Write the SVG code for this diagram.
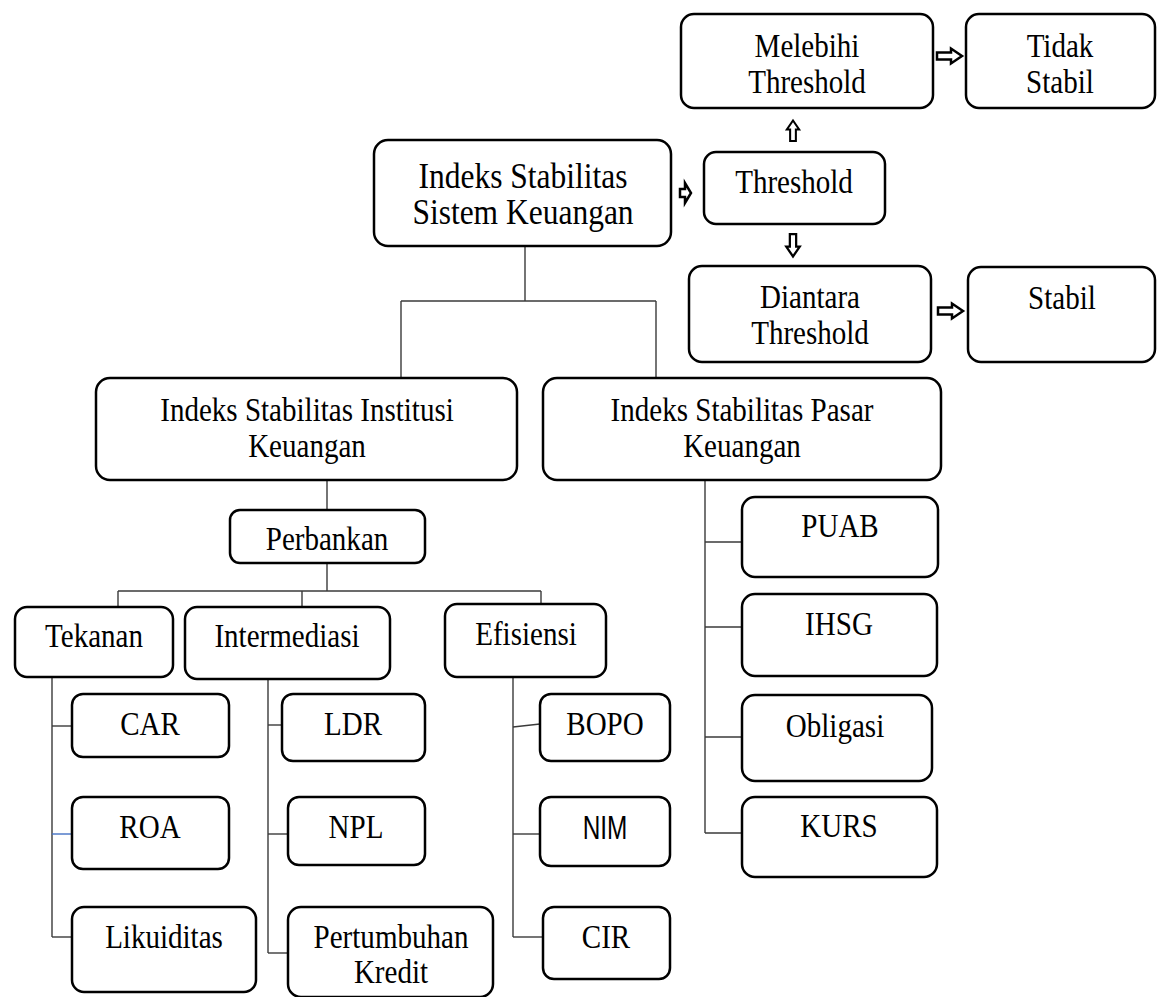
<svg xmlns="http://www.w3.org/2000/svg" width="1158" height="997" viewBox="0 0 1158 997">
<style>
.b{fill:#fff;stroke:#000;stroke-width:2.5}
.t{font-family:"Liberation Serif","Times New Roman",serif;font-size:33px;fill:#000;text-anchor:middle}
.big{font-size:35px}
.sans{font-family:"Liberation Sans",Arial,sans-serif;font-size:33px}
.c{fill:none;stroke:#3a3a3a;stroke-width:1.4}
.ar{fill:#fff;stroke:#000;stroke-width:2.5}
</style>
<defs>
<path id="rarrow" d="M0,-3.5 H14 V-7.5 L25,0 L14,7.5 V3.5 H0 Z"/>
</defs>
<rect width="1158" height="997" fill="#fff"/>
<g id="connectors">
<line class="c" x1="525" y1="246" x2="525" y2="301"/>
<line class="c" x1="401" y1="301" x2="656" y2="301"/>
<line class="c" x1="401" y1="301" x2="401" y2="378"/>
<line class="c" x1="656" y1="301" x2="656" y2="378"/>
<line class="c" x1="327" y1="480" x2="327" y2="510"/>
<line class="c" x1="327" y1="563" x2="327" y2="591"/>
<line class="c" x1="118" y1="591" x2="541" y2="591"/>
<line class="c" x1="118" y1="591" x2="118" y2="607"/>
<line class="c" x1="302" y1="591" x2="302" y2="607"/>
<line class="c" x1="541" y1="591" x2="541" y2="604"/>
<line class="c" x1="52" y1="677" x2="52" y2="937"/>
<line class="c" x1="52" y1="726" x2="72" y2="726"/>
<line x1="52" y1="834" x2="72" y2="834" stroke="#4472C4" stroke-width="1.4"/>
<line class="c" x1="52" y1="937" x2="72" y2="937"/>
<line class="c" x1="268" y1="679" x2="268" y2="953"/>
<line class="c" x1="268" y1="725" x2="282" y2="725"/>
<line class="c" x1="268" y1="834" x2="288" y2="834"/>
<line class="c" x1="268" y1="953" x2="288" y2="953"/>
<line class="c" x1="513" y1="677" x2="513" y2="937"/>
<line class="c" x1="513" y1="727" x2="540" y2="724"/>
<line class="c" x1="513" y1="834" x2="540" y2="834"/>
<line class="c" x1="513" y1="937" x2="543" y2="937"/>
<line class="c" x1="705" y1="480" x2="705" y2="833"/>
<line class="c" x1="705" y1="542" x2="742" y2="542"/>
<line class="c" x1="705" y1="627" x2="742" y2="627"/>
<line class="c" x1="705" y1="737" x2="742" y2="737"/>
<line class="c" x1="705" y1="833" x2="742" y2="833"/>
<use href="#rarrow" class="ar" transform="translate(937,56)"/>
<use href="#rarrow" class="ar" transform="translate(938,311)"/>
<use href="#rarrow" class="ar" transform="translate(793,141) rotate(-90) scale(0.82)"/>
<use href="#rarrow" class="ar" transform="translate(793,234) rotate(90) scale(0.9)"/>
<path class="ar" d="M680,189 H685 V183 L691,193 L685,203 V197 H680 Z"/>
</g>
<g id="melebihi"><rect class="b" x="681" y="14" width="252" height="94" rx="13"/><text class="t" transform="matrix(0.88 0 0 1 807 57)">Melebihi</text><text class="t" transform="matrix(0.88 0 0 1 807 93)">Threshold</text></g>
<g id="tidak-stabil"><rect class="b" x="966" y="14" width="189" height="94" rx="13"/><text class="t" transform="matrix(0.88 0 0 1 1060 57)">Tidak</text><text class="t" transform="matrix(0.88 0 0 1 1060 93)">Stabil</text></g>
<g id="issk"><rect class="b" x="374" y="140" width="297" height="106" rx="14"/><text class="t big" transform="matrix(0.9 0 0 1 523 188)">Indeks Stabilitas</text><text class="t big" transform="matrix(0.9 0 0 1 523 224)">Sistem Keuangan</text></g>
<g id="threshold"><rect class="b" x="704" y="152" width="181" height="72" rx="12"/><text class="t" transform="matrix(0.88 0 0 1 794 193)">Threshold</text></g>
<g id="diantara"><rect class="b" x="689" y="266" width="242" height="96" rx="13"/><text class="t" transform="matrix(0.88 0 0 1 810 308)">Diantara</text><text class="t" transform="matrix(0.88 0 0 1 810 344)">Threshold</text></g>
<g id="stabil"><rect class="b" x="968" y="267" width="187" height="95" rx="13"/><text class="t" transform="matrix(0.88 0 0 1 1062 309)">Stabil</text></g>
<g id="isik"><rect class="b" x="96" y="378" width="421" height="102" rx="14"/><text class="t" transform="matrix(0.88 0 0 1 307 421)">Indeks Stabilitas Institusi</text><text class="t" transform="matrix(0.88 0 0 1 307 457)">Keuangan</text></g>
<g id="ispk"><rect class="b" x="543" y="378" width="398" height="102" rx="14"/><text class="t" transform="matrix(0.88 0 0 1 742 421)">Indeks Stabilitas Pasar</text><text class="t" transform="matrix(0.88 0 0 1 742 457)">Keuangan</text></g>
<g id="perbankan"><rect class="b" x="230" y="510" width="195" height="53" rx="10"/><text class="t" transform="matrix(0.88 0 0 1 327 550)">Perbankan</text></g>
<g id="tekanan"><rect class="b" x="15" y="607" width="158" height="70" rx="12"/><text class="t" transform="matrix(0.88 0 0 1 94 647)">Tekanan</text></g>
<g id="intermediasi"><rect class="b" x="185" y="607" width="205" height="72" rx="12"/><text class="t" transform="matrix(0.88 0 0 1 287 647)">Intermediasi</text></g>
<g id="efisiensi"><rect class="b" x="445" y="604" width="161" height="73" rx="12"/><text class="t" transform="matrix(0.88 0 0 1 526 645)">Efisiensi</text></g>
<g id="car"><rect class="b" x="72" y="694" width="157" height="63" rx="11"/><text class="t" transform="matrix(0.88 0 0 1 150 735)">CAR</text></g>
<g id="roa"><rect class="b" x="72" y="797" width="157" height="72" rx="11"/><text class="t" transform="matrix(0.88 0 0 1 150 838)">ROA</text></g>
<g id="likuiditas"><rect class="b" x="72" y="907" width="184" height="85" rx="12"/><text class="t" transform="matrix(0.88 0 0 1 164 948)">Likuiditas</text></g>
<g id="ldr"><rect class="b" x="282" y="694" width="143" height="67" rx="11"/><text class="t" transform="matrix(0.88 0 0 1 353 735)">LDR</text></g>
<g id="npl"><rect class="b" x="288" y="797" width="137" height="68" rx="11"/><text class="t" transform="matrix(0.88 0 0 1 356 838)">NPL</text></g>
<g id="pertumbuhan"><rect class="b" x="288" y="907" width="205" height="90" rx="13"/><text class="t" transform="matrix(0.88 0 0 1 391 948)">Pertumbuhan</text><text class="t" transform="matrix(0.88 0 0 1 391 983)">Kredit</text></g>
<g id="bopo"><rect class="b" x="540" y="694" width="130" height="67" rx="11"/><text class="t" transform="matrix(0.88 0 0 1 605 735)">BOPO</text></g>
<g id="nim"><rect class="b" x="540" y="797" width="130" height="69" rx="11"/><text class="t sans" transform="matrix(0.74 0 0 1 605 839)">NIM</text></g>
<g id="cir"><rect class="b" x="543" y="907" width="127" height="72" rx="11"/><text class="t" transform="matrix(0.88 0 0 1 606 948)">CIR</text></g>
<g id="puab"><rect class="b" x="742" y="497" width="196" height="80" rx="13"/><text class="t" transform="matrix(0.88 0 0 1 840 537)">PUAB</text></g>
<g id="ihsg"><rect class="b" x="742" y="594" width="195" height="82" rx="13"/><text class="t" transform="matrix(0.88 0 0 1 839 635)">IHSG</text></g>
<g id="obligasi"><rect class="b" x="742" y="695" width="190" height="86" rx="13"/><text class="t" transform="matrix(0.88 0 0 1 835 737)">Obligasi</text></g>
<g id="kurs"><rect class="b" x="742" y="797" width="195" height="80" rx="13"/><text class="t" transform="matrix(0.88 0 0 1 839 837)">KURS</text></g>
</svg>
